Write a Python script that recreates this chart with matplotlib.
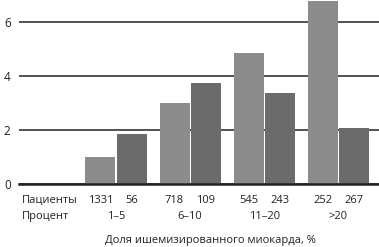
import matplotlib
matplotlib.use("Agg")
import matplotlib.pyplot as plt
import matplotlib.transforms as mtransforms
import numpy as np

plt.rcParams['font.family'] = ['Open Sans', 'DejaVu Sans']

groups = ["1–5", "6–10", "11–20", ">20"]
series_light = [1.0, 3.0, 4.85, 6.78]
series_dark = [1.85, 3.75, 3.37, 2.07]
patients_light = ["1331", "718", "545", "252"]
patients_dark = ["56", "109", "243", "267"]
yticks = [0, 2, 4, 6]
xlabel = "Доля ишемизированного миокарда, %"
row1 = "Пациенты"
row2 = "Процент"

fig = plt.figure(figsize=(3.79, 2.47), dpi=100)
ax = fig.add_axes([19/379, 1 - 184/247, 1 - 19/379, 184/247])

x = np.arange(len(groups))
w = 0.405
off = 0.21
ax.bar(x - off, series_light, width=w, color="#8c8c8c", zorder=3)
ax.bar(x + off, series_dark, width=w, color="#6b6b6b", zorder=3)

ax.set_xlim(-1.31, 3.55)
ax.set_ylim(0, 6.8)
ax.set_yticks(yticks)
ax.set_yticklabels([str(t) for t in yticks], fontsize=8.5, color="#222222")
ax.tick_params(axis='y', length=0, pad=6)
ax.set_xticks([])
ax.yaxis.grid(True, color="#444444", linewidth=1.3, zorder=0)
for s in ["top", "right", "left"]:
    ax.spines[s].set_visible(False)
ax.spines["bottom"].set_color("#222222")
ax.spines["bottom"].set_linewidth(1.8)
ax.spines["bottom"].set_zorder(4)

trans = mtransforms.blended_transform_factory(ax.transData, fig.transFigure)
fs = 8
for i in range(len(groups)):
    ax.text(x[i] - off, 1 - 200/247, patients_light[i], transform=trans, ha="center", va="center", fontsize=fs, color="#222222")
    ax.text(x[i] + off, 1 - 200/247, patients_dark[i], transform=trans, ha="center", va="center", fontsize=fs, color="#222222")
    ax.text(x[i], 1 - 216/247, groups[i], transform=trans, ha="center", va="center", fontsize=fs, color="#222222")

fig.text(22/379, 1 - 200/247, row1, ha="left", va="center", fontsize=fs, color="#222222")
fig.text(22/379, 1 - 216/247, row2, ha="left", va="center", fontsize=fs, color="#222222")
fig.text(210/379, 1 - 240/247, xlabel, ha="center", va="center", fontsize=fs, color="#222222")

fig.savefig("out.png", dpi=100)
